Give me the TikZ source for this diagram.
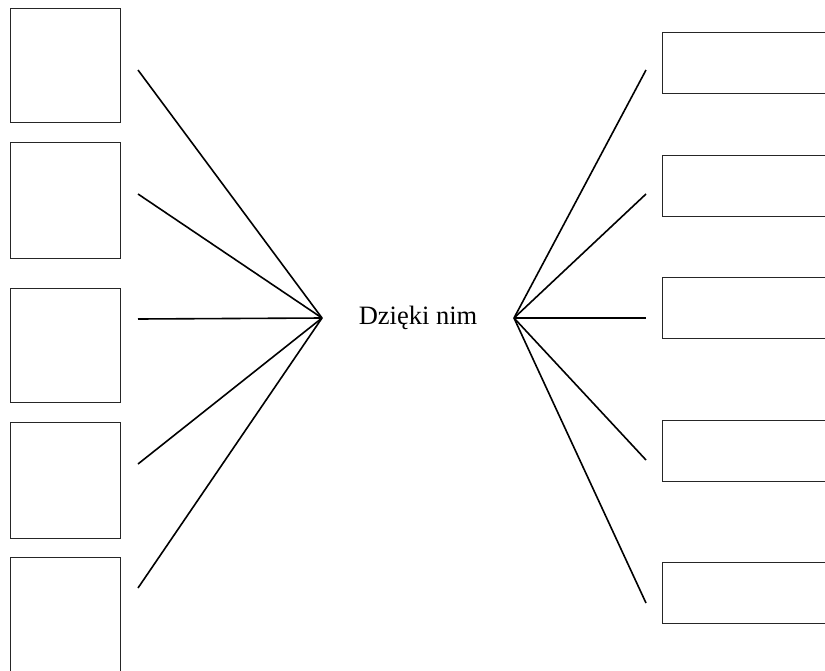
\documentclass[tikz,border=0pt]{standalone}
\usepackage{fontspec}
\setmainfont{Liberation Serif}
\begin{document}
\begin{tikzpicture}[x=1pt,y=-1pt,
  lbox/.style={draw=black!85,line width=1.4pt,minimum width=110pt,minimum height=114pt,inner sep=0pt,anchor=north west},
  rbox/.style={draw=black!85,line width=1.4pt,minimum width=200pt,minimum height=61pt,inner sep=0pt,anchor=north west},
  conn/.style={draw=black,line width=1.6pt}]
\useasboundingbox (0,0) rectangle (825,670);
\node[lbox] (l1) at (10,8) {};
\node[lbox,minimum height=116pt] (l2) at (10,142) {};
\node[lbox] (l3) at (10,288) {};
\node[lbox,minimum height=116pt] (l4) at (10,422) {};
\node[lbox,minimum height=130pt] (l5) at (10,557) {};
\node[rbox] (r1) at (662,32) {};
\node[rbox] (r2) at (662,155) {};
\node[rbox] (r3) at (662,277) {};
\node[rbox] (r4) at (662,420) {};
\node[rbox] (r5) at (662,562) {};
\node[font=\fontsize{26.5}{30}\selectfont] (t) at (418,318) {Dzięki nim};
\coordinate (cL) at (322,318);
\coordinate (cR) at (514,318);
\coordinate (a1) at (138,70);
\coordinate (a2) at (138,194);
\coordinate (a3) at (138,319);
\coordinate (a4) at (138,464);
\coordinate (a5) at (138,588);
\coordinate (b1) at (646,70);
\coordinate (b2) at (646,194);
\coordinate (b3) at (646,318);
\coordinate (b4) at (646,460);
\coordinate (b5) at (646,603);
\foreach \i in {1,...,5}{
  \draw[conn] (cL) -- (a\i);
  \draw[conn] (cR) -- (b\i);
}
\end{tikzpicture}
\end{document}
